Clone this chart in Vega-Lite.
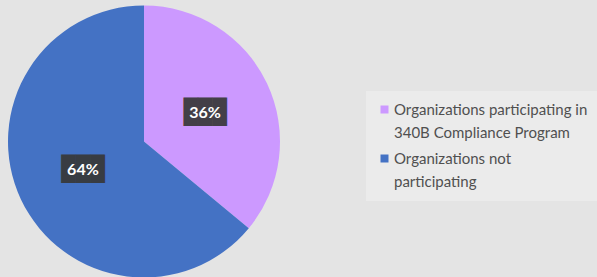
{
  "$schema": "https://vega.github.io/schema/vega-lite/v6.json",
  "width": 288,
  "height": 277,
  "autosize": {"type": "none"},
  "padding": {"left": 0, "top": 3, "right": 309, "bottom": 0},
  "background": "#e4e4e4",
  "config": {"view": {"stroke": null}},
  "data": {
    "values": [
      {"group": "Organizations participating in 340B Compliance Program", "value": 36, "label": "36%", "order": 1},
      {"group": "Organizations not participating", "value": 64, "label": "64%", "order": 2}
    ]
  },
  "encoding": {
    "theta": {"field": "value", "type": "quantitative", "stack": true},
    "order": {"field": "order", "type": "quantitative"}
  },
  "layer": [
    {
      "mark": {"type": "arc", "outerRadius": 136},
      "encoding": {
        "color": {
          "field": "group",
          "type": "nominal",
          "scale": {
            "domain": ["Organizations participating in 340B Compliance Program", "Organizations not participating"],
            "range": ["#CC99FF", "#4472C4"]
          },
          "legend": {
            "title": null,
            "orient": "none",
            "legendX": 366,
            "legendY": 88,
            "symbolType": "square",
            "symbolSize": 64,
            "symbolStrokeWidth": 0,
            "labelFont": "Lato",
            "labelFontSize": 15,
            "labelColor": "#505050",
            "labelLimit": 300,
            "padding": 11,
            "fillColor": "#ebebeb",
            "rowPadding": 10,
            "labelOffset": 2,
            "labelBaseline": "alphabetic",
            "labelExpr": "datum.label == 'Organizations not participating' ? ['Organizations not', 'participating'] : ['Organizations participating in', '340B Compliance Program']",
            "encode": {"labels": {"update": {"lineHeight": {"value": 23}, "dy": {"value": 5}}}}
          }
        }
      }
    },
    {
      "mark": {"type": "text", "radius": 67.5, "text": "███", "font": "DejaVu Sans Mono", "fontSize": 24, "color": "#383838", "opacity": 0.92}
    },
    {
      "mark": {"type": "text", "radius": 67.5, "font": "Lato", "fontWeight": "bold", "fontSize": 16, "color": "white"},
      "encoding": {"text": {"field": "label"}}
    }
  ]
}
